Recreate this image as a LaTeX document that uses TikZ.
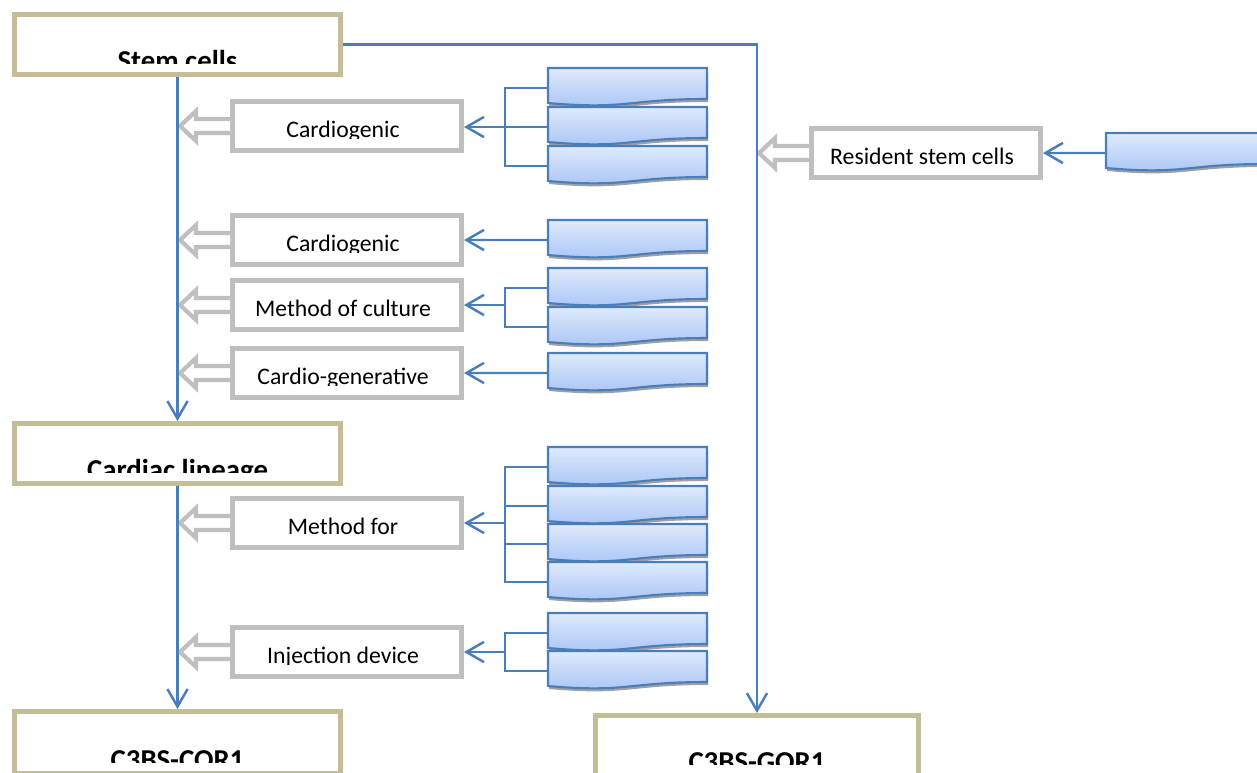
\documentclass[tikz,border=0pt]{standalone}
\usepackage{fontspec}
\setmainfont{Carlito}
\usepackage{tikz}
\usetikzlibrary{arrows.meta,positioning,calc}
\definecolor{linkblue}{HTML}{4A7EBB}
\definecolor{tanframe}{HTML}{C4BD97}
\definecolor{greyframe}{HTML}{BFBFBF}
\definecolor{doctop}{HTML}{E0EAFC}
\definecolor{docbottom}{HTML}{A6C3F5}
\definecolor{docshadow}{HTML}{A0A0A0}

% document shape with a wavy foot, named by #1, top left corner at #2
\newcommand{\docnode}[2]{%
  \begin{scope}[shift={(#2)}]
    \fill[docshadow] (1,4) -- (160,4) -- (160,34) .. controls (80,34) and (80,45) .. (1,38) -- cycle;
    \shadedraw[docbody] (0,0) -- (159,0) -- (159,31) .. controls (79.5,31) and (79.5,42) .. (0,35) -- cycle;
    \node[docspot] (#1) at (0,0) {};
  \end{scope}}
% hollow grey arrow out of the left side of a box
\newcommand{\blockarrow}[1]{%
  \filldraw[hollow] (#1.west) ++(0,-7) -- ++(-34,0) -- ++(0,-8) -- ++(-16,15) -- ++(16,15) -- ++(0,-8) -- ++(34,0);}

\begin{document}
\begin{tikzpicture}[
  x=0.02cm, y=-0.02cm,
  lbl/.store in=\boxlbl, lbl={},
  stage/.style={
    draw=tanframe,
    fill=white,
    line width=2.8pt,
    minimum width=6.52cm,
    minimum height=1.2cm,
    inner sep=0pt,
    path picture={
      \clip ([yshift=0.23cm]path picture bounding box.south west) rectangle (path picture bounding box.north east);
      \pgftext[base,at={\pgfpointadd{\pgfpointanchor{path picture bounding box}{south}}{\pgfpoint{0cm}{0.08cm}}}]{\bfseries\fontsize{16.4}{19}\selectfont\boxlbl};
    }
  },
  route/.style={
    draw=greyframe,
    fill=white,
    line width=2.8pt,
    minimum width=4.58cm,
    minimum height=0.98cm,
    inner sep=0pt,
    path picture={
      \clip ([yshift=0.24cm]path picture bounding box.south west) rectangle (path picture bounding box.north east);
      \pgftext[base,at={\pgfpointadd{\pgfpointanchor{path picture bounding box}{south}}{\pgfpoint{-0.08cm}{0.27cm}}}]{\fontsize{13.5}{16}\selectfont\boxlbl};
    }
  },
  hollow/.style={draw=greyframe,fill=white,line width=2.4pt,line join=miter},
  docbody/.style={top color=doctop,bottom color=docbottom,draw=linkblue,line width=1.2pt},
  docspot/.style={anchor=north west,minimum width=3.18cm,minimum height=0.8cm,inner sep=0pt,outer sep=0pt},
  flow/.style={-{Straight Barb[length=10pt,width=11.5pt]},draw=linkblue,line width=1.4pt},
  link/.style={draw=linkblue,line width=1.2pt}
]
  \useasboundingbox (0,0) rectangle (1257,772);
  \clip (0,0) rectangle (1257,772);

  \node[stage,lbl=Stem cells] (stem) at (177.5,44.5) {};
  \node[stage,lbl=Cardiac lineage] (lineage) at (177.5,453.5) {};
  \node[stage,lbl=C3BS-COR1,minimum height=1.24cm] (cor) at (177.5,742.5) {};
  \node[stage,lbl=C3BS-GOR1,minimum width=6.46cm] (gor) at (757,745.5) {};

  \node[route,lbl=Cardiogenic] (cardio1) at (347,126) {};
  \node[route,lbl=Cardiogenic] (cardio2) at (347,240) {};
  \node[route,lbl=Method of culture] (culture) at (347,305) {};
  \node[route,lbl=Cardio-generative] (regen) at (347,373) {};
  \node[route,lbl=Method for] (method) at (347,523) {};
  \node[route,lbl=Injection device] (inject) at (347,652) {};
  \node[route,lbl=Resident stem cells] (resident) at (926,153) {};

  \foreach \b in {cardio1,cardio2,culture,regen,method,inject,resident}
    \blockarrow{\b};

  \draw[flow] (stem.south) -- (lineage.north);
  \draw[flow] (lineage.south) -- (cor.north);
  \draw[flow] (stem.east) -| (gor.north);

  \docnode{d1a}{548,68}
  \docnode{d1b}{548,107}
  \docnode{d1c}{548,146}
  \docnode{d2}{548,220}
  \docnode{d3a}{548,268}
  \docnode{d3b}{548,307}
  \docnode{d4}{548,353}
  \docnode{d5a}{548,447}
  \docnode{d5b}{548,486}
  \docnode{d5c}{548,524}
  \docnode{d5d}{548,562}
  \docnode{d6a}{548,613}
  \docnode{d6b}{548,651}
  \docnode{d7}{1106,133}

  \coordinate (brk) at (505,0);
  \draw[link] (d1a.west) -| (brk |- d1c.west) -- (d1c.west);
  \draw[flow] (d1b.west) -- (d1b.west -| cardio1.east);
  \draw[flow] (d2.west) -- (cardio2.east);
  \draw[link] (d3a.west) -| (brk |- d3b.west) -- (d3b.west);
  \draw[flow] (brk |- culture.east) -- (culture.east);
  \draw[flow] (d4.west) -- (regen.east);
  \draw[link] (d5a.west) -| (brk |- d5d.west) -- (d5d.west);
  \draw[link] (d5b.west) -- (brk |- d5b.west);
  \draw[link] (d5c.west) -- (brk |- d5c.west);
  \draw[flow] (brk |- method.east) -- (method.east);
  \draw[link] (d6a.west) -| (brk |- d6b.west) -- (d6b.west);
  \draw[flow] (brk |- inject.east) -- (inject.east);
  \draw[flow] (d7.west) -- (resident.east);
\end{tikzpicture}
\end{document}
